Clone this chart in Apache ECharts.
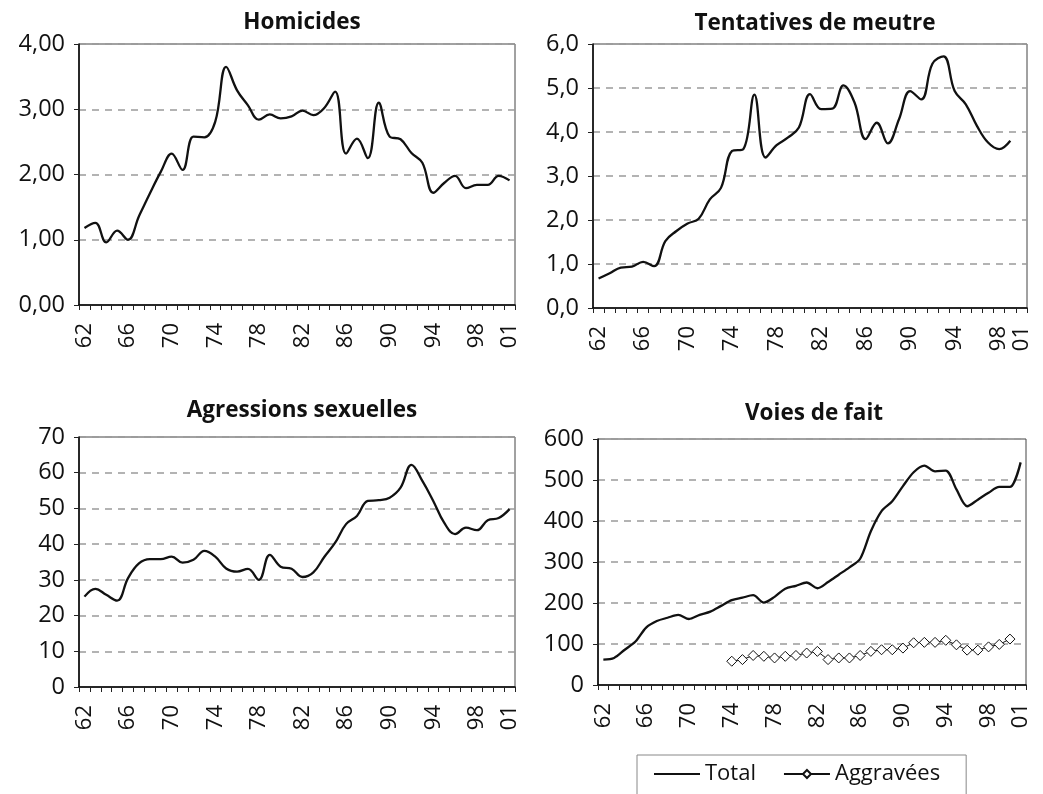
<!DOCTYPE html>
<html>
<head>
<meta charset="utf-8">
<script src="https://cdn.jsdelivr.net/npm/echarts@6/dist/echarts.min.js"></script>
<style>
  html, body { margin: 0; padding: 0; background: #fff; }
  #chart { width: 1043px; height: 794px; }
</style>
</head>
<body>
<div id="chart"></div>
<script>
// années (axe des catégories)
const years = ['62','63','64','65','66','67','68','69','70','71','72','73','74','75','76','77','78','79','80','81',
               '82','83','84','85','86','87','88','89','90','91','92','93','94','95','96','97','98','99','00','01'];
// le graphique "Tentatives" n'a que 39 cases, la dernière marquée 01
const yearsTent = ['62','63','64','65','66','67','68','69','70','71','72','73','74','75','76','77','78','79','80','81',
                   '82','83','84','85','86','87','88','89','90','91','92','93','94','95','96','97','98','99','01'];

const homicides = [1.18,1.26,0.96,1.14,1.00,1.36,1.71,2.04,2.32,2.07,2.58,2.57,2.81,3.65,3.29,3.06,2.84,2.92,2.86,2.89,
                   2.98,2.91,3.02,3.27,2.32,2.55,2.25,3.10,2.58,2.54,2.33,2.18,1.72,1.87,1.98,1.79,1.84,1.84,1.98,1.91];
const tentatives = [0.67,0.79,0.92,0.94,1.05,0.95,1.52,1.75,1.92,2.03,2.47,2.73,3.57,3.61,4.85,3.42,3.70,3.87,4.10,4.86,
                    4.52,4.53,5.06,4.67,3.84,4.21,3.74,4.29,4.93,4.74,5.55,5.72,4.93,4.63,4.14,3.76,3.61,3.80,null];
const agressions = [25.3,27.5,25.8,24.2,30.5,34.6,35.8,35.8,36.5,34.8,35.6,38.1,36.5,33.2,32.3,33.1,30.0,37.0,33.7,33.1,
                    30.8,32.1,36.4,40.4,45.6,47.9,52.1,52.3,53.0,55.8,62.2,57.7,52.1,46.0,42.8,44.6,43.9,46.7,47.3,49.8];
const voiesTotal = [62,66,86,106,140,156,164,171,161,171,179,193,207,213,219,201,215,235,242,250,
                    236,251,269,287,308,375,424,448,485,519,535,521,523,477,436,452,469,483,483,543];
const voiesAggr = [null,null,null,null,null,null,null,null,null,null,null,null,58,62,72,70,66,70,72,78,
                   82,62,66,66,72,82,86,86,90,103,104,104,109,98,85,85,93,99,112,null];

// libellés des axes verticaux
const homLabels = ['0,00','1,00','2,00','3,00','4,00'];
const tentLabels = ['0,0','1,0','2,0','3,0','4,0','5,0','6,0'];
const agrLabels = ['0','10','20','30','40','50','60','70'];
const voiesLabels = ['0','100','200','300','400','500','600'];

const FONT = 'Open Sans';

function makeX(idx, cats) {
    return {
        type: 'category',
        gridIndex: idx,
        data: cats,
        boundaryGap: true,
        axisLine: { show: true, lineStyle: { color: '#000', width: 1.5 } },
        axisTick: { show: true, interval: 0, length: 5, lineStyle: { color: '#222' } },
        axisLabel: {
            interval: (i) => i % 4 === 0 || i === cats.length - 1,
            rotate: 90,
            margin: 18,
            fontSize: 22,
            fontFamily: FONT,
            color: '#111'
        },
        splitLine: { show: false }
    };
}

function makeY(idx, max, step, labels) {
    return {
        type: 'value',
        gridIndex: idx,
        min: 0,
        max: max,
        interval: step,
        axisLine: { show: true, lineStyle: { color: '#000', width: 1.5 } },
        axisTick: { show: true, length: 5, lineStyle: { color: '#222' } },
        axisLabel: {
            formatter: (v, i) => labels[i],
            margin: 14,
            fontSize: 23.5,
            fontFamily: FONT,
            color: '#111'
        },
        splitLine: { show: true, lineStyle: { color: '#9a9a9a', width: 1.5, type: [7, 6] } }
    };
}

function titleAt(text, x, y) {
    return {
        text: text,
        left: x,
        top: y,
        textAlign: 'center',
        textStyle: { fontFamily: FONT, fontWeight: 'bold', fontSize: 22.5, color: '#111' }
    };
}

const lineStyle = { color: '#111', width: 2.3 };

let myChart = echarts.init(document.getElementById('chart'));
let option = {
    backgroundColor: '#fff',
    animation: false,
    title: [
        titleAt('Homicides', 297, 6),
        titleAt('Tentatives de meutre', 810, 7),
        titleAt('Agressions sexuelles', 297, 394),
        titleAt('Voies de fait', 809, 397)
    ],
    legend: {
        data: ['Total', 'Aggravées'],
        left: 637,
        top: 755,
        orient: 'horizontal',
        itemWidth: 46,
        itemHeight: 10,
        itemGap: 27,
        padding: [8, 26, 10, 16],
        borderColor: '#888',
        borderWidth: 1,
        textStyle: { fontFamily: FONT, fontSize: 22, color: '#111' }
    },
    grid: [
        { left: 79, top: 44, width: 436, height: 261, show: true, borderColor: '#444', borderWidth: 1 },
        { left: 593, top: 44, width: 434, height: 264, show: true, borderColor: '#444', borderWidth: 1 },
        { left: 79, top: 437, width: 436, height: 250, show: true, borderColor: '#444', borderWidth: 1 },
        { left: 598, top: 439, width: 428, height: 246, show: true, borderColor: '#444', borderWidth: 1 }
    ],
    xAxis: [
        makeX(0, years),
        makeX(1, yearsTent),
        makeX(2, years),
        makeX(3, years)
    ],
    yAxis: [
        makeY(0, 4, 1, homLabels),
        makeY(1, 6, 1, tentLabels),
        makeY(2, 70, 10, agrLabels),
        makeY(3, 600, 100, voiesLabels)
    ],
    series: [
        { type: 'line', xAxisIndex: 0, yAxisIndex: 0, data: homicides, smooth: 0.4, symbol: 'none', lineStyle: lineStyle },
        { type: 'line', xAxisIndex: 1, yAxisIndex: 1, data: tentatives, smooth: 0.4, symbol: 'none', lineStyle: lineStyle },
        { type: 'line', xAxisIndex: 2, yAxisIndex: 2, data: agressions, smooth: 0.4, symbol: 'none', lineStyle: lineStyle },
        {
            name: 'Total', type: 'line', xAxisIndex: 3, yAxisIndex: 3, data: voiesTotal,
            smooth: 0.3, symbol: 'none', lineStyle: lineStyle,
            itemStyle: { color: '#111', opacity: 0 }
        },
        {
            name: 'Aggravées', type: 'line', xAxisIndex: 3, yAxisIndex: 3, data: voiesAggr,
            symbol: 'diamond', symbolSize: 10, showAllSymbol: true,
            lineStyle: { color: '#111', width: 1 },
            itemStyle: { color: '#fff', borderColor: '#111', borderWidth: 1 }
        }
    ]
};
myChart.setOption(option);
</script>
</body>
</html>
